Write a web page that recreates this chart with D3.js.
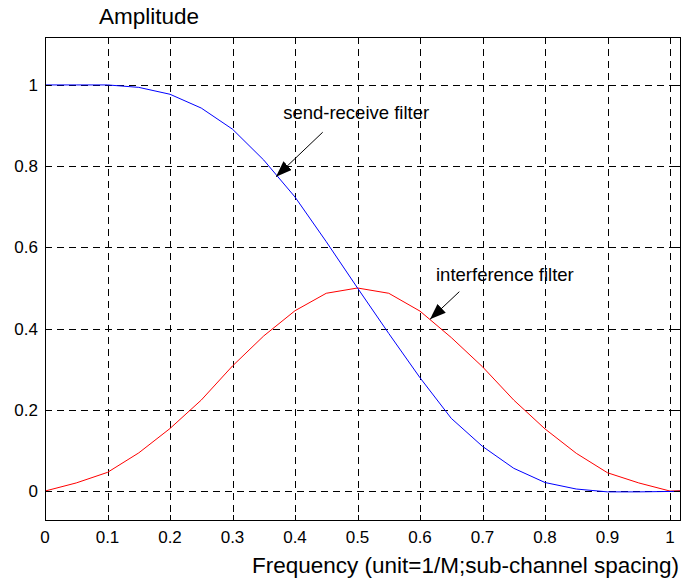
<!DOCTYPE html>
<html>
<head>
<meta charset="utf-8">
<script src="https://cdn.jsdelivr.net/npm/d3@7"></script>
<style>
    html, body { margin: 0; padding: 0; background: #fff; }
    svg { display: block; font-family: "Liberation Sans", Arial, sans-serif; }
</style>
</head>
<body>
<div id="chart"></div>
<script>
// valeurs (pas de 0.05)
const frequency = [0, 0.05, 0.1, 0.15, 0.2, 0.25, 0.3, 0.35, 0.4, 0.45, 0.5,
    0.55, 0.6, 0.65, 0.7, 0.75, 0.8, 0.85, 0.9, 0.95, 1.0, 1.05];
const sendReceive = [1, 1, 1, 0.994, 0.977, 0.943, 0.891, 0.815, 0.724, 0.614, 0.5,
    0.388, 0.279, 0.179, 0.11, 0.056, 0.021, 0.005, -0.002, -0.002, -0.001, 0];
const interference = [0, 0.02, 0.046, 0.094, 0.154, 0.224, 0.308, 0.382, 0.444, 0.487, 0.5,
    0.487, 0.443, 0.378, 0.306, 0.224, 0.153, 0.093, 0.045, 0.02, 0, 0.003];

const xTicks = [0, 0.1, 0.2, 0.3, 0.4, 0.5, 0.6, 0.7, 0.8, 0.9, 1];
const yTicks = [0, 0.2, 0.4, 0.6, 0.8, 1];
const xDomain = [0, 1.016];
const yDomain = [-0.0725, 1.118];

// annotations: texte, position du texte, queue et pointe de la flèche (unités des données)
const annotations = [
    { label: "send-receive filter", text: [0.381, 0.9155], from: [0.4443, 0.8835], to: [0.3696, 0.774] },
    { label: "interference filter", text: [0.6256, 0.518], from: [0.6629, 0.4909], to: [0.616, 0.4229] },
];

const Settings = {
    WIDTH: 681,
    HEIGHT: 583,
    LEFT: 45,
    RIGHT: 680,
    TOP: 37,
    BOTTOM: 520.5,
    TICK_LENGTH: 6,
};

const x = d3.scaleLinear().domain(xDomain).range([Settings.LEFT, Settings.RIGHT]);
const y = d3.scaleLinear().domain(yDomain).range([Settings.BOTTOM, Settings.TOP]);

const svg = d3.select("#chart")
    .append("svg")
    .attr("width", Settings.WIDTH)
    .attr("height", Settings.HEIGHT);

svg.append("defs")
    .append("clipPath")
    .attr("id", "plot-clip")
    .append("rect")
    .attr("x", Settings.LEFT)
    .attr("y", Settings.TOP)
    .attr("width", Settings.RIGHT - Settings.LEFT)
    .attr("height", Settings.BOTTOM - Settings.TOP);

//Grille en pointillés
const grid = svg.append("g")
    .attr("stroke", "#000")
    .attr("stroke-width", 1)
    .attr("stroke-dasharray", "7,5")
    .attr("shape-rendering", "crispEdges");

grid.selectAll("line.vgrid")
    .data(xTicks)
    .join("line")
    .attr("class", "vgrid")
    .attr("x1", (d) => Math.round(x(d)) + 0.5)
    .attr("x2", (d) => Math.round(x(d)) + 0.5)
    .attr("y1", Settings.TOP)
    .attr("y2", Settings.BOTTOM);

grid.selectAll("line.hgrid")
    .data(yTicks)
    .join("line")
    .attr("class", "hgrid")
    .attr("x1", Settings.LEFT)
    .attr("x2", Settings.RIGHT)
    .attr("y1", (d) => Math.round(y(d)) + 0.5)
    .attr("y2", (d) => Math.round(y(d)) + 0.5);

//Courbes
const line = (values) => d3.line()
    .x((d, i) => x(frequency[i]))
    .y((d) => y(d))(values);

const curves = svg.append("g").attr("clip-path", "url(#plot-clip)");

curves.append("path")
    .attr("d", line(interference))
    .attr("fill", "none")
    .attr("stroke", "#ff0000")
    .attr("stroke-width", 1);

curves.append("path")
    .attr("d", line(sendReceive))
    .attr("fill", "none")
    .attr("stroke", "#0000ff")
    .attr("stroke-width", 1);

//Cadre et graduations (vers l'intérieur, des deux côtés)
const frame = svg.append("g")
    .attr("stroke", "#000")
    .attr("stroke-width", 1)
    .attr("shape-rendering", "crispEdges");

frame.append("rect")
    .attr("x", Settings.LEFT)
    .attr("y", Settings.TOP)
    .attr("width", Settings.RIGHT - Settings.LEFT)
    .attr("height", Settings.BOTTOM - Settings.TOP)
    .attr("fill", "none");

xTicks.forEach((t) => {
    const px = Math.round(x(t)) + 0.5;
    frame.append("line").attr("x1", px).attr("x2", px)
        .attr("y1", Settings.BOTTOM).attr("y2", Settings.BOTTOM - Settings.TICK_LENGTH);
    frame.append("line").attr("x1", px).attr("x2", px)
        .attr("y1", Settings.TOP).attr("y2", Settings.TOP + Settings.TICK_LENGTH);
});

yTicks.forEach((t) => {
    const py = Math.round(y(t)) + 0.5;
    frame.append("line").attr("y1", py).attr("y2", py)
        .attr("x1", Settings.LEFT).attr("x2", Settings.LEFT + Settings.TICK_LENGTH);
    frame.append("line").attr("y1", py).attr("y2", py)
        .attr("x1", Settings.RIGHT).attr("x2", Settings.RIGHT - Settings.TICK_LENGTH);
});

//Libellés des graduations
svg.append("g")
    .selectAll("text")
    .data(xTicks)
    .join("text")
    .attr("x", (d) => x(d))
    .attr("y", 543)
    .attr("text-anchor", "middle")
    .attr("font-size", 17)
    .text((d) => d3.format("")(d));

svg.append("g")
    .selectAll("text")
    .data(yTicks)
    .join("text")
    .attr("x", 38)
    .attr("y", (d) => y(d))
    .attr("dy", "0.36em")
    .attr("text-anchor", "end")
    .attr("font-size", 17)
    .text((d) => d3.format("")(d));

//Titres des axes
svg.append("text")
    .attr("x", 99)
    .attr("y", 24)
    .attr("font-size", 22.5)
    .text("Amplitude");

svg.append("text")
    .attr("x", 252)
    .attr("y", 573)
    .attr("font-size", 22.5)
    .text("Frequency (unit=1/M;sub-channel spacing)");

//Flèches d'annotation
svg.append("defs")
    .append("marker")
    .attr("id", "arrowhead")
    .attr("viewBox", "0 0 16 12")
    .attr("refX", 16)
    .attr("refY", 6)
    .attr("markerWidth", 16)
    .attr("markerHeight", 12)
    .attr("orient", "auto")
    .attr("markerUnits", "userSpaceOnUse")
    .append("path")
    .attr("d", "M 0 0 L 16 6 L 0 12 Z")
    .attr("fill", "#000");

const notes = svg.append("g");

notes.selectAll("line")
    .data(annotations)
    .join("line")
    .attr("x1", (d) => x(d.from[0]))
    .attr("y1", (d) => y(d.from[1]))
    .attr("x2", (d) => x(d.to[0]))
    .attr("y2", (d) => y(d.to[1]))
    .attr("stroke", "#000")
    .attr("stroke-width", 1)
    .attr("marker-end", "url(#arrowhead)");

notes.selectAll("text")
    .data(annotations)
    .join("text")
    .attr("x", (d) => x(d.text[0]))
    .attr("y", (d) => y(d.text[1]))
    .attr("font-size", 18.5)
    .text((d) => d.label);
</script>
</body>
</html>
